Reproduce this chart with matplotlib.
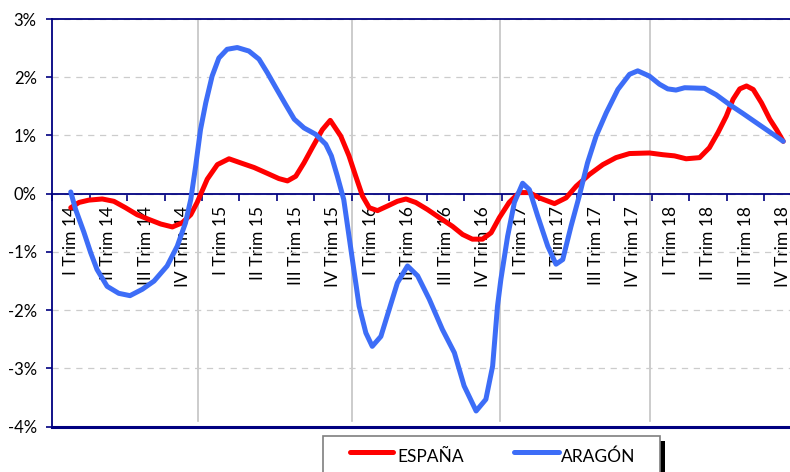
import matplotlib.pyplot as plt
from matplotlib.lines import Line2D
from matplotlib.patches import Rectangle

plt.rcParams["font.family"] = ["Lato", "DejaVu Sans"]

quarters = [
    "I Trim 14", "II Trim 14", "III Trim 14", "IV Trim 14",
    "I Trim 15", "II Trim 15", "III Trim 15", "IV Trim 15",
    "I Trim 16", "II Trim 16", "III Trim 16", "IV Trim 16",
    "I Trim 17", "II Trim 17", "III Trim 17", "IV Trim 17",
    "I Trim 18", "II Trim 18", "III Trim 18", "IV Trim 18",
]

# position along the quarter axis (0 = I Trim 14) and value in %
espana_x = [0.0, 0.22, 0.48, 0.84, 1.15, 1.46, 1.77, 2.08, 2.40, 2.71, 2.97,
            3.20, 3.37, 3.64, 3.91, 4.22, 4.53, 4.89, 5.24, 5.55, 5.78, 6.00,
            6.22, 6.44, 6.71, 6.92, 7.20, 7.42, 7.60, 7.78, 7.96, 8.18, 8.45,
            8.71, 8.94, 9.20, 9.51, 9.83, 10.18, 10.45, 10.71, 10.98, 11.21,
            11.43, 11.69, 11.96, 12.23, 12.49, 12.90, 13.21, 13.48, 13.83,
            14.19, 14.54, 14.90, 15.43, 15.79, 16.10, 16.41, 16.77, 17.03,
            17.26, 17.48, 17.66, 17.84, 18.02, 18.20, 18.42, 18.64, 18.82, 19.0]
espana_y = [-0.24, -0.15, -0.11, -0.09, -0.13, -0.24, -0.36, -0.44, -0.52,
            -0.57, -0.50, -0.36, -0.15, 0.25, 0.50, 0.60, 0.53, 0.45, 0.35,
            0.26, 0.22, 0.30, 0.53, 0.79, 1.10, 1.26, 0.99, 0.65, 0.30, -0.04,
            -0.24, -0.29, -0.21, -0.13, -0.09, -0.15, -0.27, -0.41, -0.56,
            -0.70, -0.78, -0.78, -0.67, -0.41, -0.15, 0.02, 0.02, -0.07, -0.17,
            -0.07, 0.13, 0.33, 0.50, 0.62, 0.69, 0.70, 0.67, 0.65, 0.60, 0.62,
            0.79, 1.05, 1.33, 1.62, 1.80, 1.85, 1.79, 1.56, 1.28, 1.10, 0.90]

aragon_x = [0.0, 0.13, 0.35, 0.53, 0.70, 0.97, 1.28, 1.58, 1.91, 2.22, 2.57,
            2.84, 3.06, 3.20, 3.33, 3.46, 3.60, 3.77, 3.95, 4.17, 4.44, 4.75,
            5.02, 5.24, 5.47, 5.73, 5.96, 6.22, 6.53, 6.80, 6.95, 7.11, 7.28,
            7.51, 7.69, 7.87, 8.04, 8.27, 8.49, 8.71, 8.98, 9.25, 9.56, 9.91,
            10.23, 10.49, 10.81, 11.07, 11.25, 11.38, 11.47, 11.65, 11.83,
            12.05, 12.23, 12.45, 12.72, 12.94, 13.12, 13.34, 13.56, 13.78,
            14.01, 14.28, 14.59, 14.90, 15.12, 15.43, 15.70, 15.92, 16.14,
            16.37, 16.90, 17.21, 17.57, 17.92, 18.28, 18.64, 19.0]
aragon_y = [0.03, -0.27, -0.66, -1.01, -1.30, -1.59, -1.71, -1.75, -1.64,
            -1.50, -1.24, -0.90, -0.50, -0.10, 0.47, 1.10, 1.56, 2.02, 2.33,
            2.48, 2.51, 2.45, 2.31, 2.08, 1.82, 1.53, 1.28, 1.13, 1.02, 0.85,
            0.65, 0.30, -0.10, -1.13, -1.93, -2.39, -2.62, -2.45, -1.99, -1.53,
            -1.24, -1.41, -1.81, -2.33, -2.73, -3.30, -3.73, -3.53, -2.96,
            -1.93, -1.47, -0.73, -0.15, 0.18, 0.07, -0.38, -0.90, -1.21, -1.13,
            -0.56, -0.04, 0.53, 0.99, 1.39, 1.79, 2.05, 2.11, 2.02, 1.88, 1.80,
            1.78, 1.82, 1.81, 1.70, 1.53, 1.38, 1.22, 1.06, 0.90]

year_breaks = [3.4, 7.5, 11.45, 15.45]

navy = "#000080"
red = "#ff0000"
blue = "#3d6df7"

W, H = 790, 472
fig = plt.figure(figsize=(W / 100, H / 100), dpi=100)
ax = fig.add_axes([52 / W, 45.3 / H, 750 / W, 407.7 / H])
ax.set_xlim(-0.5, 19.5)
ax.set_ylim(-4, 3)

# year separators
for xb in year_breaks:
    ax.plot([xb, xb], [-3.9, 3], color="#c4c4c4", lw=1.2, zorder=1)

ax.plot(espana_x, espana_y, color=red, lw=3.6, solid_capstyle="round",
        solid_joinstyle="round", zorder=3)
ax.plot(aragon_x, aragon_y, color=blue, lw=3.6, solid_capstyle="round",
        solid_joinstyle="round", zorder=4)

# frame
ax.spines["right"].set_visible(False)
for s in ("left", "top", "bottom"):
    ax.spines[s].set_color(navy)
    ax.spines[s].set_linewidth(1.3)
ax.spines["bottom"].set_position(("data", 0))
ax.axhline(-4, color=navy, lw=2.2, clip_on=False, zorder=5)

ax.set_yticks(range(-4, 4))
ax.set_yticklabels([f"{v}%" for v in range(-4, 4)])
ax.tick_params(axis="y", length=4, width=1.2, color=navy, labelsize=12,
               pad=7)
ax.yaxis.grid(True, color="#cccccc", lw=0.9, linestyle=(0, (5, 4.5)))

ax.set_xticks([i - 0.5 for i in range(len(quarters) + 1)])
ax.set_xticklabels([])
ax.set_xticks(range(len(quarters)), minor=True)
ax.set_xticklabels(quarters, minor=True, rotation=90)
ax.tick_params(axis="x", which="major", length=5, width=1.2, color=navy)
ax.tick_params(axis="x", which="minor", length=0, pad=9, labelsize=12.5)


def fx(px):
    return px / W


def fy(py):
    return 1 - py / H


# legend box (runs off the bottom edge)
fig.add_artist(Rectangle((fx(660), fy(490)), 5 / W, (490 - 441) / H,
                         transform=fig.transFigure, facecolor="black",
                         edgecolor="none"))
fig.add_artist(Rectangle((fx(323), fy(490)), (660 - 323) / W, (490 - 436) / H,
                         transform=fig.transFigure, facecolor="white",
                         edgecolor="#7f7f7f", lw=1.2))
for (x0, x1, tx), color, name in zip(
        [(350, 393, 397), (514, 559, 561)], [red, blue], ["ESPAÑA", "ARAGÓN"]):
    fig.add_artist(Line2D([fx(x0), fx(x1)], [fy(452), fy(452)],
                          transform=fig.transFigure, color=color, lw=3.6,
                          solid_capstyle="round"))
    fig.text(fx(tx), fy(462), name, fontsize=12.5, va="baseline", ha="left")

fig.savefig("out.png", dpi=100)
